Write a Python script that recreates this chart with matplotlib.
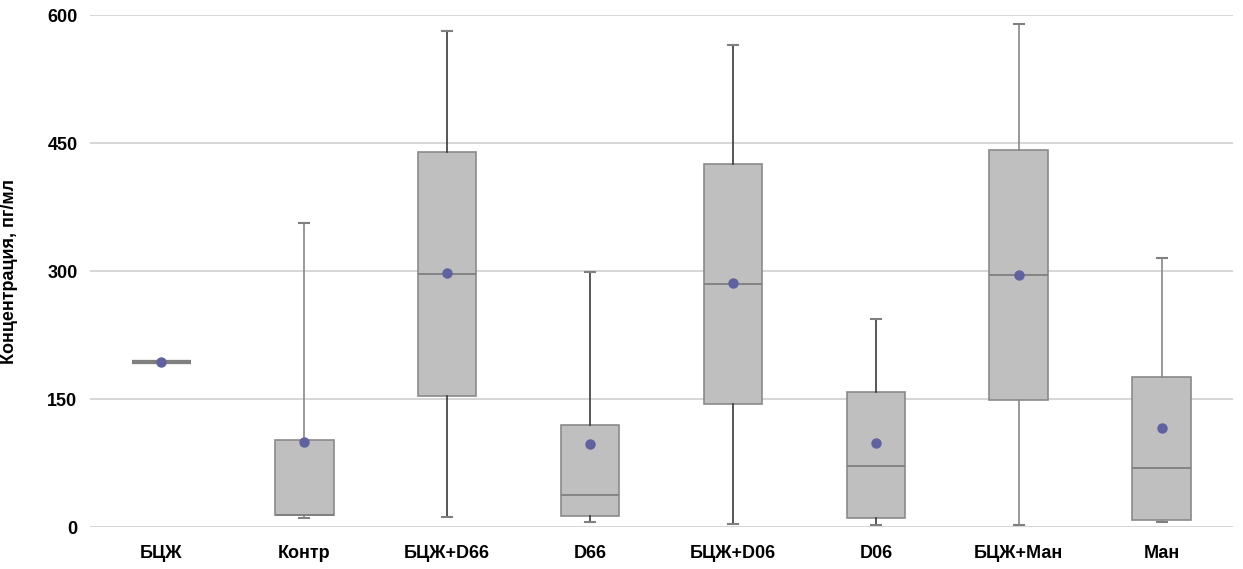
import matplotlib
matplotlib.use("Agg")
import matplotlib.pyplot as plt

categories = ["БЦЖ", "Контр", "БЦЖ+D66", "D66", "БЦЖ+D06", "D06", "БЦЖ+Ман", "Ман"]
whisker_low = [193, 11, 12, 5.5, 3.5, 2, 2, 5.5]
q1 = [193, 14, 154, 13, 144, 11, 149, 8]
median = [193, 14.5, 297, 37.5, 285, 72, 295, 69.5]
q3 = [193, 102, 440, 119.5, 426, 158, 442, 176]
whisker_high = [193, 357, 582, 299, 565, 244, 590, 315.5]
mean = [193, 100, 298, 97, 286, 99, 296, 116]

yticks = [0, 150, 300, 450, 600]
ylabel = "Концентрация, пг/мл"

plt.rcParams["font.family"] = ["Liberation Sans", "DejaVu Sans"]

fig = plt.figure(figsize=(12.43, 5.69), dpi=100)
ax = fig.add_axes([0.0724, 0.0738, 0.9196, 0.8993])

stats = []
for i, name in enumerate(categories):
    stats.append(dict(label=name, whislo=whisker_low[i], q1=q1[i], med=median[i],
                      q3=q3[i], whishi=whisker_high[i], mean=mean[i], fliers=[]))

positions = list(range(len(categories)))
arts = ax.bxp(stats, positions=positions, widths=0.41, patch_artist=True,
              showmeans=False, showfliers=False,
              boxprops=dict(facecolor="#BFBFBF", edgecolor="#8A8A8A", linewidth=1.2),
              medianprops=dict(color="#7F7F7F", linewidth=1.3),
              whiskerprops=dict(color="#555555", linewidth=1.2),
              capprops=dict(color="#808080", linewidth=1.5),
              capwidths=0.07)

# the collapsed first box reads as a thick flat bar
arts["medians"][0].set_linewidth(3)
arts["boxes"][0].set_linewidth(3)

whisker_colors = ["#808080", "#888888", "#3a3a3a", "#3a3a3a", "#3a3a3a", "#3a3a3a", "#888888", "#888888"]
for i, c in enumerate(whisker_colors):
    arts["whiskers"][2 * i].set_color(c)
    arts["whiskers"][2 * i + 1].set_color(c)

ax.plot(positions, mean, linestyle="none", marker="o", markersize=6.5,
        color="#60629F", zorder=5)

ax.set_xlim(-0.5, len(categories) - 0.5)
ax.set_ylim(0, 600)
ax.set_yticks(yticks)
ax.set_yticklabels([str(t) for t in yticks], fontsize=13, fontweight="bold")
ax.set_xticks(positions)
ax.set_xticklabels(categories, fontsize=13, fontweight="bold")
ax.tick_params(axis="x", length=0, pad=13)
ax.tick_params(axis="y", length=0, pad=9)
for side in ["top", "right", "left", "bottom"]:
    ax.spines[side].set_visible(False)
ax.yaxis.grid(True, color="#D0D0D0", linewidth=1.2)
ax.set_axisbelow(True)
ax.set_ylabel(ylabel, fontsize=13, fontweight="bold")
ax.yaxis.set_label_coords(-0.063, 0.5)

fig.savefig("out.png", dpi=100)
